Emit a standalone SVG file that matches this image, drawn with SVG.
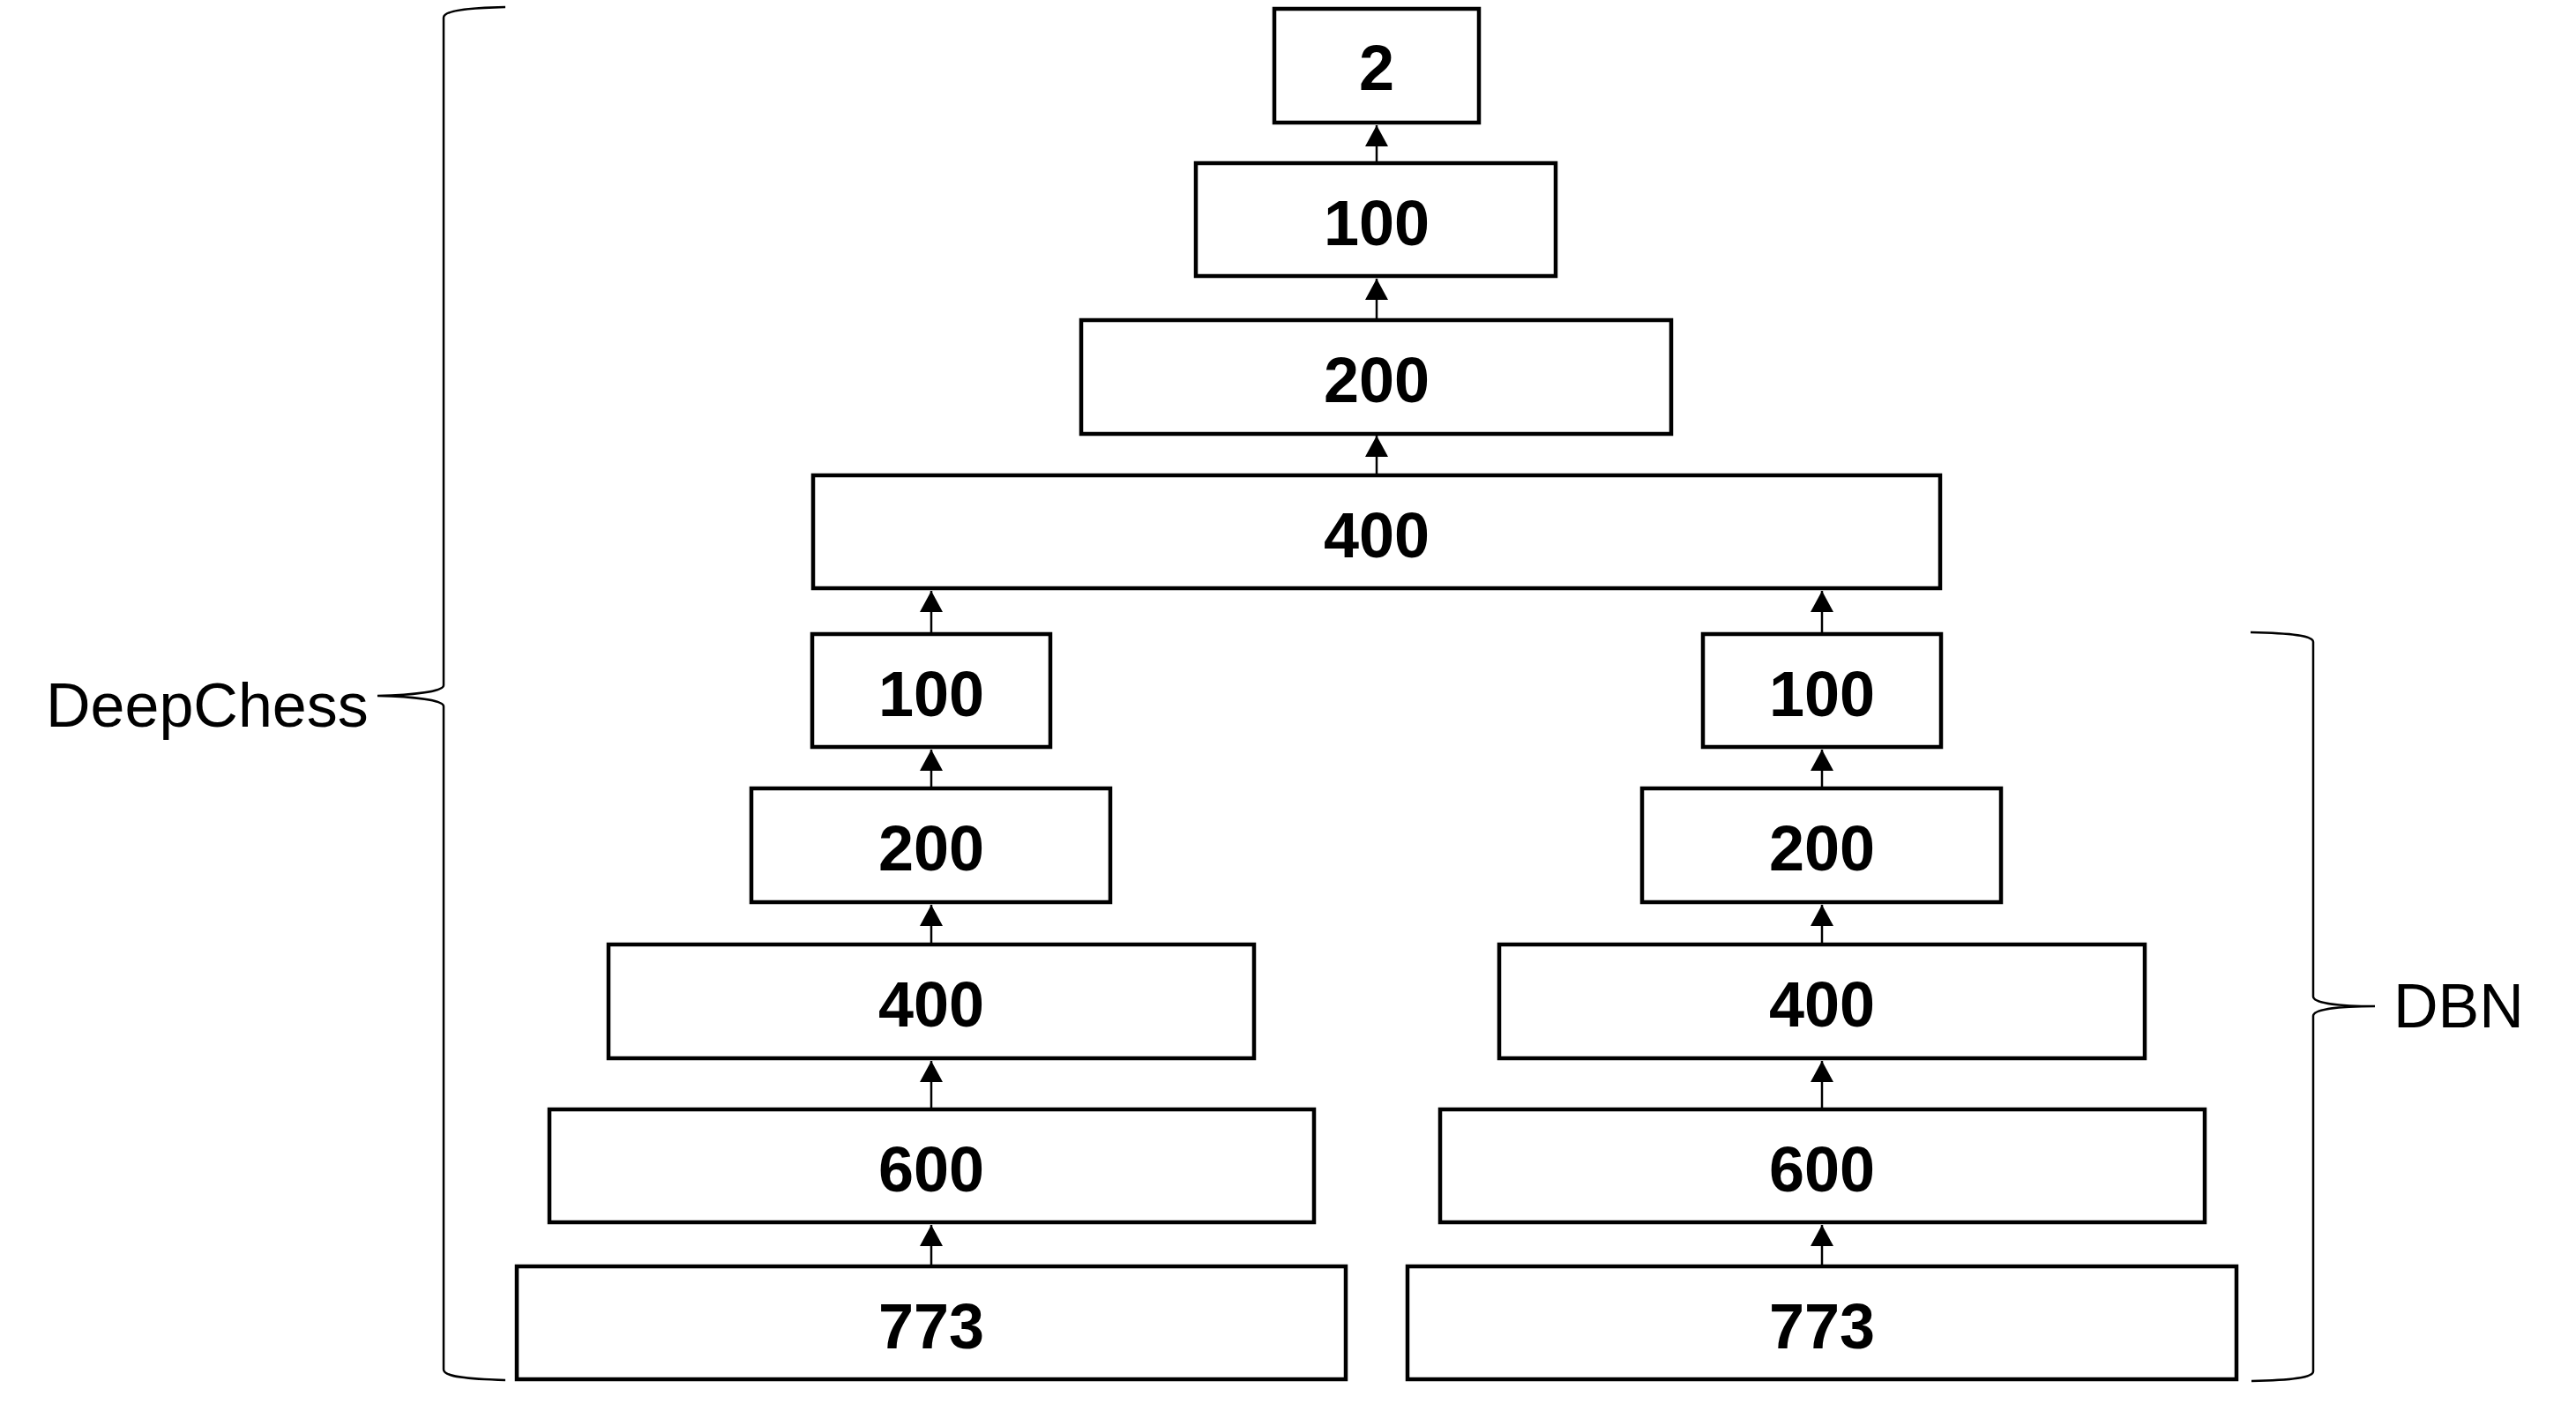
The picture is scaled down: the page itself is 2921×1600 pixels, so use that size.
<svg xmlns="http://www.w3.org/2000/svg" width="2921" height="1600" viewBox="0 0 2921 1600">
<style>
.box{fill:#fff;stroke:#000;stroke-width:4.5}
.num{font-family:"Liberation Sans",Arial,sans-serif;font-weight:bold;font-size:72px;text-anchor:middle;fill:#000}
.lbl{font-family:"Liberation Sans",Arial,sans-serif;font-size:70px;fill:#000}
.conn line{stroke:#000;stroke-width:2.5;marker-end:url(#ah)}
.brace{fill:none;stroke:#000;stroke-width:2.5}
</style>
<defs>
<marker id="ah" markerUnits="userSpaceOnUse" markerWidth="26" markerHeight="26" viewBox="0 0 26 26" refX="24" refY="13" orient="auto">
<path d="M0,0 L24,13 L0,26 Z" fill="#000"/>
</marker>
</defs>
<rect width="2921" height="1600" fill="#fff"/>
<g id="n2"><rect class="box" x="1445" y="10" width="232" height="129"/><text class="num" x="1561" y="102">2</text></g>
<g id="t100"><rect class="box" x="1356" y="185" width="408" height="128"/><text class="num" x="1561" y="278">100</text></g>
<g id="t200"><rect class="box" x="1226" y="363" width="669" height="129"/><text class="num" x="1561" y="456">200</text></g>
<g id="t400"><rect class="box" x="922" y="539" width="1278" height="128"/><text class="num" x="1561" y="632">400</text></g>
<g id="l100"><rect class="box" x="921" y="719" width="270" height="128"/><text class="num" x="1056" y="812">100</text></g>
<g id="r100"><rect class="box" x="1931" y="719" width="270" height="128"/><text class="num" x="2066" y="812">100</text></g>
<g id="l200"><rect class="box" x="852" y="894" width="407" height="129"/><text class="num" x="1056" y="987">200</text></g>
<g id="r200"><rect class="box" x="1862" y="894" width="407" height="129"/><text class="num" x="2066" y="987">200</text></g>
<g id="l400"><rect class="box" x="690" y="1071" width="732" height="129"/><text class="num" x="1056" y="1164">400</text></g>
<g id="r400"><rect class="box" x="1700" y="1071" width="732" height="129"/><text class="num" x="2066" y="1164">400</text></g>
<g id="l600"><rect class="box" x="623" y="1258" width="867" height="128"/><text class="num" x="1056" y="1351">600</text></g>
<g id="r600"><rect class="box" x="1633" y="1258" width="867" height="128"/><text class="num" x="2066" y="1351">600</text></g>
<g id="l773"><rect class="box" x="586" y="1436" width="940" height="128"/><text class="num" x="1056" y="1529">773</text></g>
<g id="r773"><rect class="box" x="1596" y="1436" width="940" height="128"/><text class="num" x="2066" y="1529">773</text></g>
<g class="conn" id="connectors">
<line x1="1561" y1="183" x2="1561" y2="142"/>
<line x1="1561" y1="361" x2="1561" y2="316"/>
<line x1="1561" y1="537" x2="1561" y2="494"/>
<line x1="1056" y1="717" x2="1056" y2="670"/>
<line x1="2066" y1="717" x2="2066" y2="670"/>
<line x1="1056" y1="892" x2="1056" y2="850"/>
<line x1="2066" y1="892" x2="2066" y2="850"/>
<line x1="1056" y1="1069" x2="1056" y2="1026"/>
<line x1="2066" y1="1069" x2="2066" y2="1026"/>
<line x1="1056" y1="1256" x2="1056" y2="1203"/>
<line x1="2066" y1="1256" x2="2066" y2="1203"/>
<line x1="1056" y1="1434" x2="1056" y2="1389"/>
<line x1="2066" y1="1434" x2="2066" y2="1389"/>
</g>
<g id="deepchess">
<path class="brace" d="M573,8 C530,9 503,12 503,20 L503,777 C503,784 470,788 428,789 C470,790 503,794 503,801 L503,1553 C503,1561 530,1564 573,1565"/>
<text class="lbl" x="52" y="824">DeepChess</text>
</g>
<g id="dbn">
<path class="brace" d="M2552,717 C2600,718 2623,721 2623,728 L2623,1130 C2623,1137 2650,1141 2693,1141 C2650,1141 2623,1145 2623,1152 L2623,1555 C2623,1562 2600,1565 2553,1566"/>
<text class="lbl" x="2714" y="1165">DBN</text>
</g>
</svg>
